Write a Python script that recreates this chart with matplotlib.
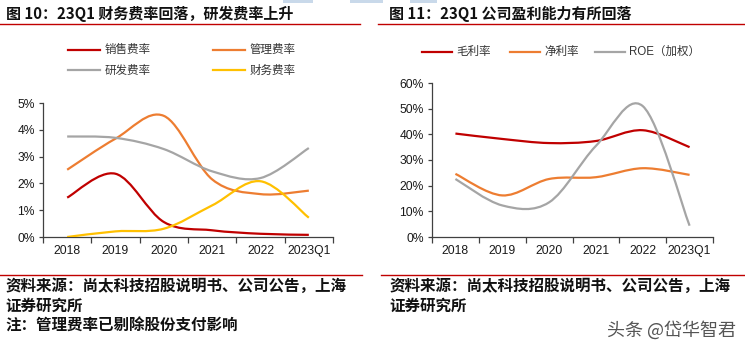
import numpy as np
import matplotlib.pyplot as plt
from matplotlib.path import Path
from matplotlib.patches import PathPatch, Rectangle
from matplotlib.lines import Line2D

plt.rcParams['font.family'] = ['Noto Sans CJK SC', 'DejaVu Sans']

years = ["2018", "2019", "2020", "2021", "2022", "2023Q1"]

# 图10 费用率 (%)
sales_rate = [1.47, 2.36, 0.56, 0.25, 0.12, 0.08]
admin_rate = [2.51, 3.67, 4.52, 2.15, 1.60, 1.73]
rd_rate = [3.75, 3.70, 3.28, 2.45, 2.20, 3.32]
fin_rate = [0.0, 0.21, 0.31, 1.18, 2.08, 0.72]

# 图11 盈利能力 (%)
gross_margin = [40.3, 38.2, 36.6, 37.4, 41.6, 35.0]
net_margin = [24.6, 16.2, 22.6, 23.3, 26.8, 24.2]
roe = [22.6, 12.3, 13.5, 35.5, 51.0, 4.4]

left_names = ["销售费率", "管理费率", "研发费率", "财务费率"]
right_names = ["毛利率", "净利率", "ROE（加权）"]

RED = "#C00000"
ORANGE = "#ED7D31"
GRAY = "#A5A5A5"
YELLOW = "#FFC000"
AXC = "#404040"


def smooth_line(ax, ys, color, scale=1.0):
    # excel-like smoothed line drawn as cubic bezier through the points
    xs = np.arange(len(ys), dtype=float)
    ys = np.asarray(ys, dtype=float) / scale
    pts = np.column_stack([xs, ys])
    ext = np.vstack([pts[0], pts, pts[-1]])
    verts = [pts[0]]
    codes = [Path.MOVETO]
    for i in range(len(pts) - 1):
        p0, p1, p2, p3 = ext[i], ext[i + 1], ext[i + 2], ext[i + 3]
        c1 = p1 + (p2 - p0) / 6.0
        c2 = p2 - (p3 - p1) / 6.0
        verts += [c1, c2, p2]
        codes += [Path.CURVE4] * 3
    patch = PathPatch(Path(verts, codes), fill=False, edgecolor=color,
                      lw=1.6, capstyle='butt', joinstyle='round', zorder=3)
    ax.add_patch(patch)


def style_axes(ax, ymax, step):
    ax.set_xlim(-0.5, len(years) - 0.5)
    ax.set_ylim(0, ymax)
    for s in ["top", "right"]:
        ax.spines[s].set_visible(False)
    for s in ["left", "bottom"]:
        ax.spines[s].set_color(AXC)
        ax.spines[s].set_linewidth(0.9)
    ax.set_xticks(np.arange(len(years)))
    ax.set_xticklabels(years, fontfamily='Liberation Sans', fontsize=8.7, color="#1a1a1a")
    ax.set_xticks(np.arange(-0.5, len(years)), minor=True)
    ax.tick_params(axis='x', which='major', length=0, pad=6)
    ax.tick_params(axis='x', which='minor', length=4, color=AXC, width=0.9, direction='out')
    yt = np.arange(0, ymax + step / 2, step)
    ax.set_yticks(yt)
    ax.set_yticklabels([f"{int(round(v * 100))}%" for v in yt],
                       fontfamily='Liberation Sans', fontsize=8.7, color="#1a1a1a")
    ax.tick_params(axis='y', length=3, color=AXC, width=0.9, direction='out', pad=3)


fig = plt.figure(figsize=(7.45, 3.51), dpi=100)
W, H = 745.0, 351.0


def fx(px):
    return px / W


def fy(py):
    return 1 - py / H


# top light-blue fragments
for x0, x1 in [(283, 313), (350, 383), (410, 437)]:
    fig.add_artist(Rectangle((fx(x0), fy(3)), fx(x1 - x0), 3 / H, transform=fig.transFigure,
                             color="#C9D9EA", lw=0))

# titles and rules
fig.text(fx(6), fy(14), "图 10：23Q1 财务费率回落，研发费率上升", fontsize=10.8,
         fontweight='bold', va='center', ha='left', color="#111")
fig.text(fx(389), fy(14), "图 11：23Q1 公司盈利能力有所回落", fontsize=10.8,
         fontweight='bold', va='center', ha='left', color="#111")
for x0, x1, y in [(0, 360, 23.5), (378, 745, 23.5), (0, 362, 275), (381, 745, 275)]:
    fig.add_artist(Line2D([fx(x0), fx(x1)], [fy(y), fy(y)], transform=fig.transFigure,
                          color="#C00000", lw=1.0))

# left chart
ax1 = fig.add_axes([fx(43), fy(237), fx(290), 134 / H])
for vals, c in zip([sales_rate, admin_rate, rd_rate, fin_rate], [RED, ORANGE, GRAY, YELLOW]):
    smooth_line(ax1, vals, c, scale=100.0)
style_axes(ax1, 0.05, 0.01)

# left legend
leg_pos = [(68, 50), (213, 50), (68, 70), (213, 70)]
for name, c, (lx, ly) in zip(left_names, [RED, ORANGE, GRAY, YELLOW], leg_pos):
    fig.add_artist(Line2D([fx(lx), fx(lx + 32)], [fy(ly), fy(ly)], transform=fig.transFigure,
                          color=c, lw=1.6))
    fig.text(fx(lx + 37), fy(ly), name, fontsize=8.3, va='center', ha='left', color="#333")

# right chart
ax2 = fig.add_axes([fx(432), fy(237), fx(281), 154 / H])
for vals, c in zip([gross_margin, net_margin, roe], [RED, ORANGE, GRAY]):
    smooth_line(ax2, vals, c, scale=100.0)
style_axes(ax2, 0.60, 0.10)

leg_pos2 = [(422, 52), (510, 52), (595, 52)]
for name, c, (lx, ly) in zip(right_names, [RED, ORANGE, GRAY], leg_pos2):
    fig.add_artist(Line2D([fx(lx), fx(lx + 30)], [fy(ly), fy(ly)], transform=fig.transFigure,
                          color=c, lw=1.6))
    fig.text(fx(lx + 34), fy(ly), name, fontsize=8.3, va='center', ha='left', color="#333",
             family=['Liberation Sans', 'Noto Sans CJK SC'])

# sources
src = "资料来源：尚太科技招股说明书、公司公告，上海"
kw = dict(fontsize=11.2, fontweight='bold', style='italic', va='center', ha='left', color="#111")
fig.text(fx(5), fy(286), src, **kw)
fig.text(fx(5), fy(306), "证券研究所", **kw)
fig.text(fx(5), fy(326), "注：管理费率已剔除股份支付影响", **kw)
fig.text(fx(389), fy(286), src, **kw)
fig.text(fx(389), fy(306), "证券研究所", **kw)

# watermark
fig.text(fx(736), fy(330), "头条 @岱华智君", fontsize=13, fontweight='light', va='center', ha='right',
         color="#555")

fig.savefig("out.png", dpi=100)
